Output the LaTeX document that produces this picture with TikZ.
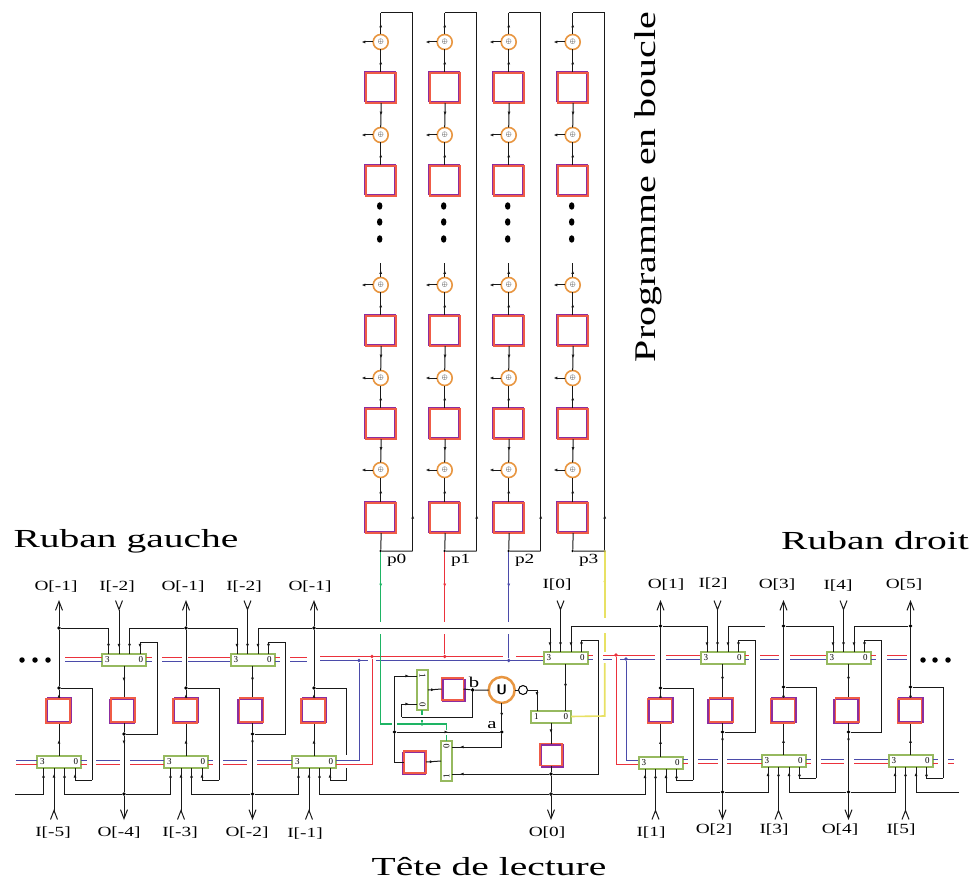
\documentclass[tikz,border=0pt]{standalone}
\usepackage{fontspec}
\setmainfont{Liberation Serif}
\usetikzlibrary{calc}
\usetikzlibrary{arrows.meta}
\usetikzlibrary{decorations.markings}
\usetikzlibrary{shapes.geometric}
\definecolor{cellred}{RGB}{240,92,70}
\definecolor{cellpurple}{RGB}{140,45,160}
\definecolor{boxgreen}{RGB}{150,185,95}
\definecolor{ringorange}{RGB}{232,150,65}
\definecolor{railred}{RGB}{235,50,60}
\definecolor{railblue}{RGB}{75,75,170}
\definecolor{wiregreen}{RGB}{30,180,100}
\definecolor{wireyellow}{RGB}{232,225,100}
\newcommand{\wide}[2][1.38]{\scalebox{#1}[1]{#2}}
\tikzset{
    tinytip/.tip={Latex[length=3.6pt,width=3pt]},
    barbtip/.tip={Straight Barb[length=9pt,width=7pt]},
    wire/.style={black!90, line width=1pt},
    tipat/.style={postaction={decorate,decoration={markings,mark=at position #1 with {\arrow{tinytip}}}}},
    redrail/.style={railred, line width=1pt},
    bluerail/.style={railblue, line width=1pt},
    greenwire/.style={wiregreen, line width=1.2pt},
    yellowwire/.style={wireyellow, line width=1.6pt},
    cell/.style={draw=cellred, line width=1.6pt, inner sep=0pt, outer sep=0pt, minimum size=#1},
    purpleoff/.style={preaction={draw=cellpurple, line width=1.6pt, transform canvas={shift={(#1)}}}},
    xorgate/.style={circle, draw=ringorange, fill=white, line width=1.6pt, inner sep=0pt, outer sep=0pt, minimum size=15pt, font=\scriptsize},
    headbox/.style={draw=boxgreen, fill=white, line width=2pt, inner xsep=3pt, inner ysep=0pt, outer sep=0pt, text width=38pt, minimum height=12pt, font=\fontsize{9}{9}\selectfont},
    junction/.style={circle, fill=black, inner sep=0pt, minimum size=3.8pt},
    lbl/.style={font=\fontsize{14}{14}\selectfont, inner sep=0pt},
    title/.style={font=\fontsize{26}{26}\selectfont, inner sep=0pt},
    bigdot/.style={circle, fill=black, inner sep=0pt, minimum size=5.5pt},
    longdot/.style={ellipse, fill=black, inner sep=0pt, minimum width=5.5pt, minimum height=7.5pt}
}
\begin{document}
\begin{tikzpicture}[x=1pt,y=-1pt]
    \useasboundingbox (0,0) rectangle (977,885);

    \foreach \cn/\colx/\plabel in {0/380.7/p0, 1/444.7/p1, 2/508.7/p2, 3/572.7/p3} {
        \foreach \rn/\ry/\qy in {1/42/88, 2/135/181, 3/285/331, 4/378/424, 5/470/518} {
            \node[xorgate] (x\cn\rn) at (\colx,\ry) {$\oplus$};
            \node[cell=30pt, purpleoff={-1.3,-1.3}] (q\cn\rn) at (\colx+0.5,\qy) {};
            \coordinate (xin\cn\rn) at (\colx-19,\ry);
            \draw[wire,-{tinytip}] (x\cn\rn.west) -- (xin\cn\rn);
            \draw[wire,tipat=0.5] (\colx,\qy-16) -- (x\cn\rn.south);
        }
        \foreach \xr/\qr in {2/1, 4/3, 5/4}
            \draw[wire,tipat=0.5] (q\cn\qr.south) -- (x\cn\xr.north);
        \foreach \dn/\dy in {1/206, 2/222, 3/239}
            \node[longdot] (dots\cn\dn) at (\colx-1,\dy) {};
        \coordinate (stub\cn) at (\colx,263);
        \coordinate (ptop\cn) at (\colx,13);
        \coordinate (pright\cn) at (\colx+32,13);
        \coordinate (pbot\cn) at (\colx+32,551);
        \node[junction, minimum size=2.5pt] (pout\cn) at (\colx,551) {};
        \draw[wire,tipat=0.5] (x\cn3.north) -- (stub\cn);
        \draw[wire,tipat=0.5] (x\cn1.north) -- (ptop\cn);
        \draw[wire] (ptop\cn) -- (pright\cn);
        \draw[wire,tipat=36pt] (pbot\cn) -- (pright\cn);
        \draw[wire] (q\cn5.south) -- (pout\cn) -- (pbot\cn);
        \node[lbl] (lab\cn) at (\colx+16,560) {\wide{\plabel}};
    }

    \foreach \boxname/\boxx/\boxy/\side in {a/124/659.5/north, b/252.5/659.5/north, c/565.5/658/north, d/722.5/658/north, e/848.5/658/north,
        f/59/762/south, g/186/762/south, h/314/762/south, i/660.5/762.5/south, j/783.5/760.5/south, k/910.5/760.5/south} {
        \node[headbox] (\boxname) at (\boxx,\boxy) {3\hfill 0};
        \foreach \pin/\dx in {1/-15.5, 2/-5, 3/5.5, 4/16}
            \coordinate (\boxname\pin) at ($(\boxname.\side)+(\dx,0)$);
    }

    \foreach \low/\lowx/\ya/\yb/\yc/\turn in {f/59/628/688/780/92, g/186/628/688/780/219, h/314/628/688/780/346.7,
        i/660.5/626/688/780/693, j/783.5/626/687/778/816, k/910.5/626/687/778/943} {
        \node[cell=24pt, purpleoff={1.3,-1.3}] (q\low) at (\lowx-1,711) {};
        \node[junction] (top\low) at (\lowx,\ya) {};
        \node[junction] (back\low) at (\lowx,\yb) {};
        \coordinate (arrow\low) at (\lowx,600);
        \coordinate (turn\low) at (\turn,\yc);
        \draw[wire,tipat=0.5] (\low.north) -- (\lowx,724);
        \draw[wire,tipat=0.5] (\lowx,698) -- (back\low);
        \draw[wire,-{barbtip}] (back\low) -- (top\low) -- (arrow\low);
        \draw[wire,tipat=-6pt] (turn\low) -| (\low4);
    }
    \foreach \low in {f,g,i,j,k}
        \draw[wire] (back\low) -| (turn\low);
    \coordinate (hgapa) at (346.7,755);
    \coordinate (hgapb) at (346.7,768);
    \draw[wire] (backh) -| (hgapa);
    \draw[wire] (hgapb) -- (turnh);

    \foreach \upper/\upx/\ja/\jb/\yc/\turn in {a/124/734/794/642/157, b/252.5/734/794/642/285, d/722.5/732/792/640/755, e/848.5/732/792/640/881} {
        \node[cell=24pt, purpleoff={-1.3,1.3}] (q\upper) at (\upx-1,710) {};
        \node[junction] (back\upper) at (\upx,\ja) {};
        \node[junction] (bus\upper) at (\upx,\jb) {};
        \coordinate (arrow\upper) at (\upx,820);
        \coordinate (turn\upper) at (\turn,\yc);
        \draw[wire,tipat=0.5] (\upper.south) -- (\upx,697);
        \draw[wire] (\upx,723) -- (back\upper);
        \draw[wire,tipat=8pt,-{barbtip}] (back\upper) -- (bus\upper) -- (arrow\upper);
        \draw[wire] (back\upper) -| (turn\upper);
        \draw[wire,tipat=-6pt] (turn\upper) -| (\upper4);
    }

    \foreach \pinname/\pinx/\piny in {a2/119/600, b2/247.5/600, c2/560.5/600, d2/717.5/600, e2/843.5/600,
        f2/54/820, g2/181/820, h2/309/820, i2/655.5/820, j2/778.5/820, k2/905.5/820} {
        \coordinate (in\pinname) at (\pinx,\piny);
        \draw[wire,{barbtip[reversed]}-,tipat=-6pt] (in\pinname) -- (\pinname);
    }

    \node[junction] (js3) at (551,774) {};
    \node[junction] (bus0) at (551,794) {};
    \coordinate (lstart) at (15,794);
    \coordinate (rend) at (959,792);
    \coordinate (dgap) at (765,626);
    \foreach \from/\to in {topf/a1, topg/a3, topg/b1, toph/b3, toph/c1, topi/c3, topi/d1, dgap/d3, topj/e1, topk/e3,
        lstart/f1, busa/f3, busa/g1, busb/g3, busb/h1, bus0/h3, bus0/i1, busd/i3, busd/j1, buse/j3, buse/k1, rend/k3}
        \draw[wire,tipat=-6pt] (\from) -| (\to);

    \node[cell=22pt, purpleoff={1.3,1.3}] (qs1) at (452.5,689) {};
    \node[cell=22pt, purpleoff={-1.3,1.3}] (qs2) at (415,762) {};
    \node[cell=22pt, purpleoff={1.3,1.3}] (qs3) at (551,754.5) {};
    \node[circle, draw=ringorange, fill=white, line width=2.5pt, inner sep=0pt, outer sep=0pt, minimum size=26pt, font=\sffamily\bfseries\fontsize{14}{14}\selectfont] (ugate) at (501.7,690) {U};
    \node[circle, draw=black, fill=white, line width=1pt, inner sep=0pt, outer sep=0pt, minimum size=9pt] (inv) at (523,690) {};
    \node[headbox, text width=34pt] (mux) at (551,716.5) {1\hfill 0};
    \node[headbox, text width=34pt, minimum height=11pt, rotate=-90] (vone) at (422.5,690) {1\hfill 0};
    \node[headbox, text width=34pt, minimum height=11pt, rotate=90] (vtwo) at (446.5,761) {1\hfill 0};
    \node[junction] (jb) at (472.6,690) {};
    \node[junction] (ja) at (501.7,732) {};
    \node[junction] (jv) at (394.5,732) {};
    \coordinate (muxa) at (537,711);
    \coordinate (muxb) at (565.5,711);
    \coordinate (vonea) at (417,676);
    \coordinate (voneb) at (417,704);
    \coordinate (vtwoa) at (452,747);
    \coordinate (vtwob) at (452,774);
    \coordinate (loopb) at (401.5,717);
    \coordinate (headloop) at (598.7,640);
    \draw[wire,tipat=0.5] (c.south) -- (muxb);
    \draw[wire,tipat=0.5] (inv.east) -| (muxa);
    \draw[wire] (ugate.east) -- (inv.west);
    \draw[wire,tipat=0.5] (mux.south) -- (qs3.north);
    \draw[wire,tipat=0.5,-{barbtip}] (qs3.south) -- (js3) -- (bus0) -- (551,820);
    \draw[wire] (js3) -| (headloop);
    \draw[wire,tipat=-6pt] (headloop) -| (c4);
    \draw[wire,tipat=-8pt] (js3) -- (vtwob);
    \draw[wire,tipat=0.5] (ugate.south) -- (ja);
    \draw[wire,tipat=-8pt] (ja) |- (vtwoa);
    \draw[wire,tipat=0.5] (jv) -- (ja);
    \draw[wire,tipat=-8pt] (jv) |- (vonea);
    \draw[wire] (jv) |- (qs2.west);
    \draw[wire,tipat=0.5] (qs2.east) -- (vtwo.north);
    \draw[wire,tipat=0.5] (vone.north) -- (qs1.west);
    \draw[wire] (qs1.east) -- (jb) -- (ugate.west);
    \draw[wire] (jb) |- (loopb);
    \draw[wire,tipat=-8pt] (loopb) |- (voneb);
    \node[lbl, font=\fontsize{15}{15}\selectfont] (blab) at (474,682) {\wide{b}};
    \node[lbl, font=\fontsize{15}{15}\selectfont] (alab) at (492,725) {\wide{a}};

    \foreach \xa/\xb in {65/102, 146/152, 162/182, 188/230, 275/280, 290/307} {
        \draw[redrail] (\xa,657) -- (\xb,657);
        \draw[bluerail] (\xa,661) -- (\xb,661);
    }
    \foreach \xa/\xb in {320/503, 516/543}
        \draw[redrail] (\xa,656.5) -- (\xb,656.5);
    \foreach \xa/\xb in {320/368, 376/543}
        \draw[bluerail] (\xa,660.5) -- (\xb,660.5);
    \foreach \xa/\xb in {588/593, 603/655, 666/700, 745/749, 760/779, 790/826, 871/876, 887/907}
        \draw[redrail] (\xa,655) -- (\xb,655);
    \foreach \xa/\xb in {588/593, 603/612, 620/655, 666/700, 745/749, 760/779, 790/826, 871/876, 887/907}
        \draw[bluerail] (\xa,659) -- (\xb,659);
    \foreach \xa/\xb in {16/37, 81/87, 96/120, 130/164, 208/213, 223/247, 257/292} {
        \draw[bluerail] (\xa,760) -- (\xb,760);
        \draw[redrail] (\xa,764) -- (\xb,764);
    }
    \foreach \xa/\xb in {683/688, 698/718, 727/762, 806/811, 821/844, 854/888, 933/938, 948/954} {
        \draw[bluerail] (\xa,759) -- (\xb,759);
        \draw[redrail] (\xa,763) -- (\xb,763);
    }

    \node[junction, fill=railred] (rleft) at (372,656.5) {};
    \node[junction, fill=railblue] (bleft) at (359,660.5) {};
    \node[junction, fill=railred] (rright) at (616,655) {};
    \node[junction, fill=railblue] (bright) at (626,659) {};
    \node[junction, fill=railred] (rmid) at (444.7,656.5) {};
    \node[junction, fill=railblue] (bmid) at (508.7,660.5) {};
    \coordinate (hblue) at (336,760);
    \coordinate (hred) at (336,764);
    \coordinate (iblue) at (638,760);
    \coordinate (ired) at (638,764);
    \draw[bluerail] (hblue) -| (bleft);
    \draw[redrail] (hred) -| (rleft);
    \draw[bluerail] (bright) |- (iblue);
    \draw[redrail] (rright) |- (ired);

    \draw[greenwire,tipat=0.5] (pout0) -- (380.7,622);
    \draw[greenwire] (380.7,634) -- (380.7,724) -- (392,724);
    \draw[greenwire] (397,724) -- (446.7,724) -- (446.7,730);
    \draw[greenwire] (446.7,735) -- (446.7,741);
    \node[junction, fill=wiregreen] (gdot) at (422,724) {};
    \draw[greenwire] (gdot) -- (422,720);
    \draw[greenwire] (422,715) -- (422,710);
    \draw[redrail,tipat=0.5] (pout1) -- (444.7,622);
    \draw[redrail] (444.7,634) -- (rmid);
    \draw[bluerail,tipat=0.5] (pout2) -- (508.7,622);
    \draw[bluerail] (508.7,634) -- (bmid);
    \draw[yellowwire,tipat=0.5] (pbot3) -- (604.7,618);
    \draw[yellowwire] (604.7,633) -- (604.7,652);
    \draw[yellowwire] (604.7,663) -- (604.7,716) -- (mux.east);
    \node[junction, minimum size=2.5pt, fill=wireyellow!70!black] (ydot) at (pbot3) {};

    \foreach \dn/\dotx in {1/22, 2/35, 3/48, 4/923, 5/935, 6/948}
        \node[bigdot] (side\dn) at (\dotx,660) {};

    \foreach \labname/\labx/\laby/\labtext in {to1/56/587/O[-1], ti2/117/587/I[-2], to2/183/587/O[-1], ti3/244/587/I[-2], to3/310/587/O[-1],
        ti0/557/585/I[0], to4/666/585/O[1], ti5/713/584/I[2], to6/777/585/O[3], ti7/838/586/I[4], to8/904/585/O[5],
        bi1/53/833/I[-5], bo1/119/833/O[-4], bi2/180/833/I[-3], bo2/247/833/O[-2], bi3/305/834/I[-1], bo0/547/833/O[0],
        bi4/651/833/I[1], bo3/714/830/O[2], bi5/774/830/I[3], bo4/840/830/O[4], bi6/901/830/I[5]}
        \node[lbl] (\labname) at (\labx,\laby) {\wide{\labtext}};

    \node[title] (ruleft) at (126,541) {\wide[1.52]{Ruban gauche}};
    \node[title] (ruright) at (875,541) {\wide[1.52]{Ruban droit}};
    \node[title] (tete) at (489,867) {\wide[1.52]{Tête de lecture}};
    \node[title, font=\fontsize{30}{30}\selectfont, rotate=90] (prog) at (648,187) {\wide[1.33]{Programme en boucle}};
\end{tikzpicture}
\end{document}
